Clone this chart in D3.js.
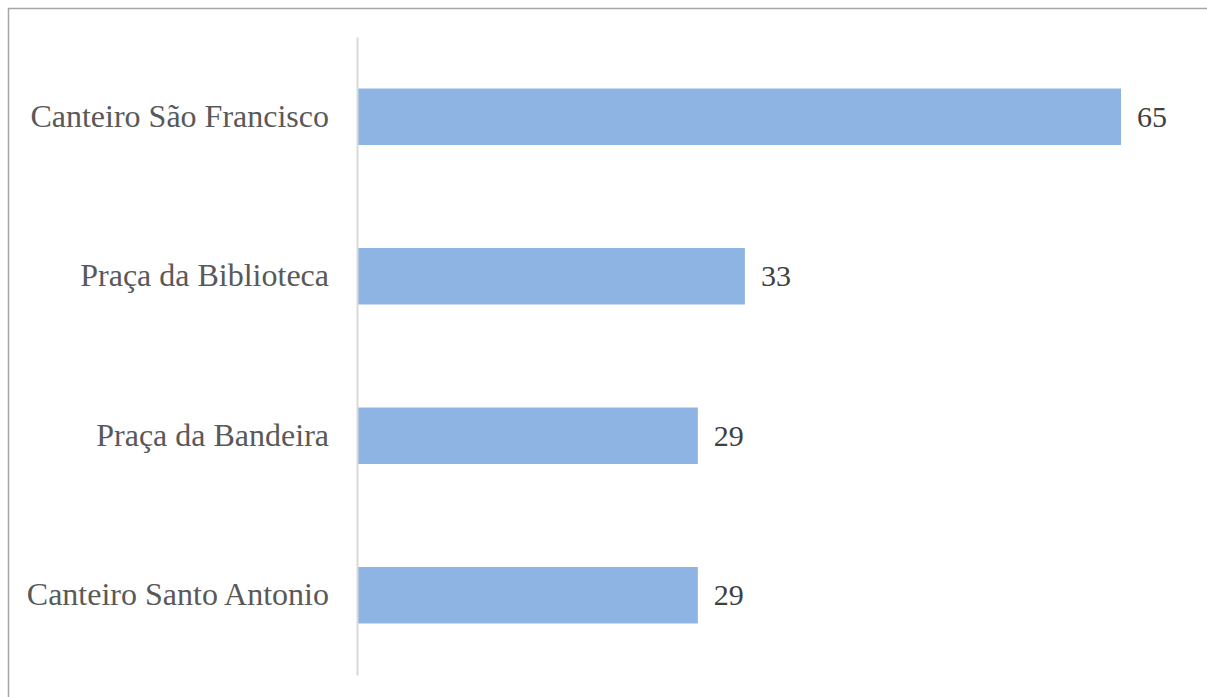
<!DOCTYPE html>
<html>
<head>
<meta charset="utf-8">
<script src="https://cdn.jsdelivr.net/npm/d3@7"></script>
<style>
  html, body { margin: 0; padding: 0; background: #fff; }
  svg { display: block; }
</style>
</head>
<body>
<div id="chart"></div>
<script>
// Number of records per site
const categories = ["Canteiro São Francisco", "Praça da Biblioteca", "Praça da Bandeira", "Canteiro Santo Antonio"];
const values = [65, 33, 29, 29];

const W = 1207, H = 697;
const svg = d3.select("#chart").append("svg")
  .attr("width", W).attr("height", H);

// Outer frame (top and left edges visible)
svg.append("path")
  .attr("d", `M8.5,${H} L8.5,8.5 L${W},8.5`)
  .attr("fill", "none")
  .attr("stroke", "#a6a6a6")
  .attr("stroke-width", 1.5);

const plot = { left: 357, top: 37, bottom: 675 };

const y = d3.scaleBand()
  .domain(categories)
  .range([plot.top, plot.bottom])
  .paddingInner(0.646)
  .paddingOuter(0.323);

const x = d3.scaleLinear()
  .domain([0, 65])
  .range([plot.left, 1121]);

// Bars
svg.append("g").selectAll("rect")
  .data(categories)
  .join("rect")
  .attr("x", x(0))
  .attr("y", d => y(d))
  .attr("width", (d, i) => x(values[i]) - x(0))
  .attr("height", y.bandwidth())
  .attr("fill", "#8eb4e3");

// Category axis
const axis = svg.append("g")
  .attr("transform", `translate(${plot.left},0)`)
  .call(d3.axisLeft(y).tickSize(0).tickPadding(28));
axis.select(".domain")
  .attr("stroke", "#d9d9d9")
  .attr("stroke-width", 2);
axis.selectAll(".tick text")
  .attr("fill", "#595959")
  .style("font-family", "'Liberation Serif', 'Times New Roman', serif")
  .style("font-size", "32px")
  .attr("dy", "0.31em");

// Value labels
svg.append("g").selectAll("text")
  .data(categories)
  .join("text")
  .attr("x", (d, i) => x(values[i]) + 16)
  .attr("y", d => y(d) + y.bandwidth() / 2)
  .attr("dy", "0.33em")
  .attr("fill", "#404040")
  .style("font-family", "'Liberation Serif', 'Times New Roman', serif")
  .style("font-size", "30px")
  .text((d, i) => values[i]);
</script>
</body>
</html>
